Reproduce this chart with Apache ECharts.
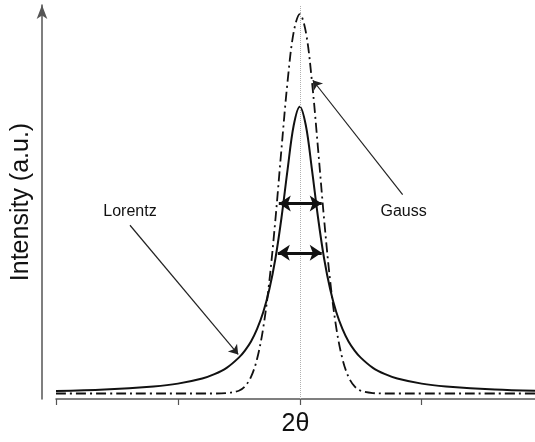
<!DOCTYPE html>
<html>
<head>
<meta charset="utf-8">
<script src="https://cdn.jsdelivr.net/npm/echarts@6/dist/echarts.min.js"></script>
<style>html,body{margin:0;padding:0;background:#fff;}#c{width:535px;height:442px;}</style>
</head>
<body>
<div id="c"></div>
<script>
// x positions in units of one tick interval, centre (2θ0) = 0
const xValues = [-2, -1.6, -1.2, -1.0, -0.8, -0.7, -0.6, -0.5, -0.45, -0.4, -0.35, -0.3, -0.25, -0.2, -0.15, -0.1, -0.05, 0,
  0.05, 0.1, 0.15, 0.2, 0.25, 0.3, 0.35, 0.4, 0.45, 0.5, 0.6, 0.7, 0.8, 1.0, 1.2, 1.6, 1.93];
const lorentzValues = [2.0, 2.4, 3.2, 3.9, 5.2, 6.3, 7.9, 10.5, 12.3, 14.6, 17.8, 22.0, 27.8, 35.6, 46.0, 58.2, 69.4, 74.2,
  69.4, 58.2, 46.0, 35.6, 27.8, 22.0, 17.8, 14.6, 12.3, 10.5, 7.9, 6.3, 5.2, 3.9, 3.2, 2.4, 2.1];
const gaussValues = [1.4, 1.4, 1.4, 1.4, 1.4, 1.4, 1.5, 2.1, 3.2, 5.6, 10.2, 18.0, 29.8, 45.5, 63.5, 80.6, 93.1, 97.7,
  93.1, 80.6, 63.5, 45.5, 29.8, 18.0, 10.2, 5.6, 3.2, 2.1, 1.5, 1.4, 1.4, 1.4, 1.4, 1.4, 1.4];
const tickValues = [-2, -1, 0, 1];
const labelNames = ['Lorentz', 'Gauss'];
const labelCoords = [[-1.393, 47.5], [0.852, 47.5]];
const pointerArrows = [[[-1.393, 44.1], [-0.505, 11.3]], [[0.844, 51.9], [0.107, 80.9]]];
const fwhmArrows = [[[-0.172, 49.6], [0.180, 49.6]], [[-0.180, 37.1], [0.180, 37.1]]];

const font = 'Liberation Sans, Arial, sans-serif';
const chart = echarts.init(document.getElementById('c'));
chart.setOption({
  animation: false,
  grid: {left: 56, right: 0, top: 5, bottom: 38},
  xAxis: {
    type: 'value', min: -2, max: 1.93, interval: 1,
    name: '2θ', nameLocation: 'middle', nameGap: 13,
    nameTextStyle: {fontSize: 25, color: '#111', fontFamily: font},
    axisLine: {onZero: false, lineStyle: {color: '#555', width: 1.5}},
    axisTick: {show: true, length: 6, customValues: tickValues, lineStyle: {color: '#555', width: 1.2}},
    axisLabel: {show: false},
    splitLine: {show: false}
  },
  yAxis: {
    type: 'value', min: 0, max: 100, offset: 14,
    name: 'Intensity (a.u.)', nameLocation: 'middle', nameGap: 8,
    nameTextStyle: {fontSize: 25, color: '#111', fontFamily: font},
    axisLine: {show: true, onZero: false, symbol: ['none', 'arrow'], symbolSize: [8, 14], lineStyle: {color: '#555', width: 1.5}},
    axisTick: {show: false},
    axisLabel: {show: false},
    splitLine: {show: false}
  },
  series: [
    {
      name: 'Lorentz', type: 'line', showSymbol: false, smooth: 0.35,
      data: xValues.map((x, i) => [x, lorentzValues[i]]),
      lineStyle: {color: '#111', width: 2},
      z: 3,
      markLine: {
        silent: true, symbol: 'none', animation: false,
        label: {show: false},
        lineStyle: {color: '#b0b0b0', width: 1, type: 'dotted'},
        data: [{xAxis: 0}]
      }
    },
    {
      name: 'Gauss', type: 'line', showSymbol: false, smooth: 0.35,
      data: xValues.map((x, i) => [x, gaussValues[i]]),
      lineStyle: {color: '#111', width: 1.8, type: [10, 4, 2, 4]},
      z: 3
    },
    {
      name: 'annotations', type: 'line', data: [], z: 4,
      markLine: {
        silent: true, animation: false, label: {show: false},
        symbolSize: 9,
        data: pointerArrows.map(p => [
          {coord: p[0], symbol: 'none', lineStyle: {color: '#222', width: 1.2, type: 'solid'}},
          {coord: p[1], symbol: 'arrow', symbolSize: 9}
        ]).concat(fwhmArrows.map(p => [
          {coord: p[0], symbol: 'arrow', symbolSize: 12, lineStyle: {color: '#111', width: 3, type: 'solid'}},
          {coord: p[1], symbol: 'arrow', symbolSize: 12}
        ]))
      },
      markPoint: {
        silent: true, animation: false, symbol: 'circle', symbolSize: 0,
        label: {show: true, position: 'inside', formatter: '{b}', fontSize: 16, color: '#111', fontFamily: font},
        data: labelNames.map((n, i) => ({name: n, coord: labelCoords[i]}))
      }
    }
  ]
});
</script>
</body>
</html>
